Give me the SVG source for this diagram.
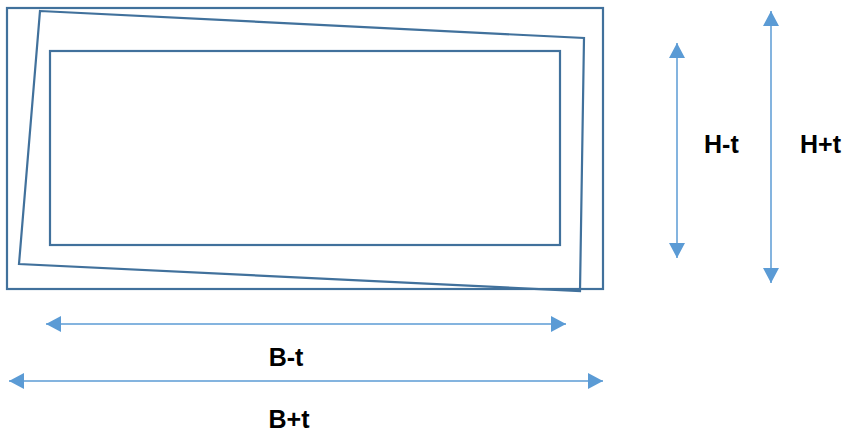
<svg xmlns="http://www.w3.org/2000/svg" width="844" height="436" viewBox="0 0 844 436">
<style>
.shape{fill:none;stroke:#41719C;stroke-width:2.2;stroke-linejoin:miter}
.dim{stroke:#5B9BD5;stroke-width:1.5;fill:none}
.lbl{font-family:"Liberation Sans",Arial,sans-serif;font-weight:bold;font-size:25px;fill:#000}
</style>
<defs>
<marker id="ah" markerUnits="userSpaceOnUse" markerWidth="16" markerHeight="16" viewBox="0 0 16 16" refX="15" refY="8" orient="auto-start-reverse">
<path d="M0,0 L15,8 L0,16 Z" fill="#5B9BD5"/>
</marker>
</defs>
<rect width="844" height="436" fill="#fff"/>
<g id="outer-frame"><rect class="shape" x="7" y="8" width="596" height="281"/></g>
<g id="tilted-frame"><polygon class="shape" points="40,11 584,38 580,291 19,264"/></g>
<g id="inner-frame"><rect class="shape" x="50" y="51" width="510" height="194"/></g>
<g id="connectors">
<line class="dim" x1="46" y1="324" x2="566" y2="324" marker-start="url(#ah)" marker-end="url(#ah)"/>
<line class="dim" x1="9" y1="381" x2="603" y2="381" marker-start="url(#ah)" marker-end="url(#ah)"/>
<line class="dim" x1="677" y1="43" x2="677" y2="258" marker-start="url(#ah)" marker-end="url(#ah)"/>
<line class="dim" x1="771" y1="11" x2="771" y2="283" marker-start="url(#ah)" marker-end="url(#ah)"/>
</g>
<g id="labels">
<text class="lbl" x="286" y="366" text-anchor="middle">B-t</text>
<text class="lbl" x="289" y="428" text-anchor="middle">B+t</text>
<text class="lbl" x="704" y="153">H-t</text>
<text class="lbl" x="800" y="153">H+t</text>
</g>
</svg>
